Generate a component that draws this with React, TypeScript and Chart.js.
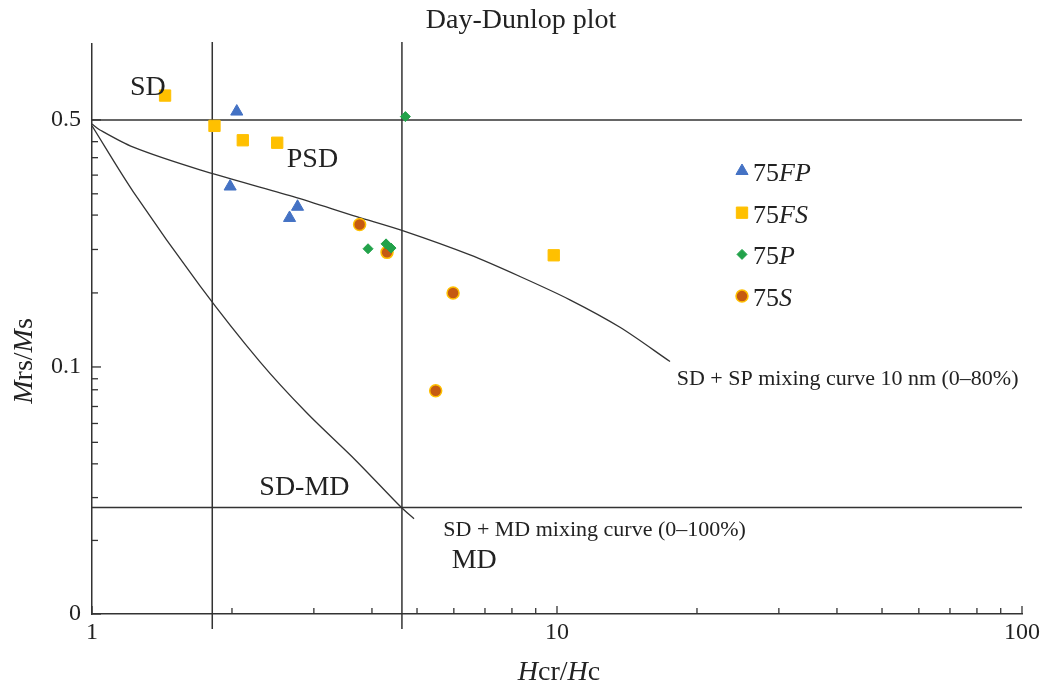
import React, { useEffect, useRef } from 'react';
import { Chart, registerables } from 'chart.js';

Chart.register(...registerables);

const FONT = '"Liberation Serif", "Times New Roman", serif';
const INK = '#222222';
const LINE = '#333333';

// ---- axis ticks ----
const xTickValues = [1, 2, 3, 4, 5, 6, 7, 8, 9, 10, 20, 30, 40, 50, 60, 70, 80, 90, 100];
const xMajorTicks = [1, 10, 100];
const xMajorLabels = ['1', '10', '100'];
const yMajorTicks = [0.02, 0.1, 0.5];
const yMajorLabels = ['0', '0.1', '0.5'];
const yMinorTicks = [0.0323, 0.0427, 0.0532, 0.0612, 0.0692, 0.0773, 0.0862, 0.0926, 0.162, 0.215, 0.269, 0.309, 0.349, 0.391, 0.434];

const chartTitle = 'Day-Dunlop plot';

// ---- sample series (Hcr/Hc, Mrs/Ms) ----
const fpX = [2.048, 1.982, 2.767, 2.66];
const fpY = [0.528, 0.324, 0.284, 0.264];
const fsX = [1.436, 1.834, 2.11, 2.502, 9.84];
const fsY = [0.586, 0.481, 0.438, 0.431, 0.207];
const pX = [4.72, 3.923, 4.289, 4.396];
const pY = [0.511, 0.216, 0.223, 0.217];
const sX = [3.763, 4.31, 5.977, 5.484];
const sY = [0.253, 0.211, 0.162, 0.0856];

// ---- mixing curves ----
const spCurveX = [1, 1.04, 1.227, 1.707, 2.71, 3.709, 4.672, 6.501, 8.324, 10.66, 13.66, 17.5];
const spCurveY = [0.487, 0.4684, 0.4186, 0.3611, 0.3034, 0.2663, 0.2427, 0.2075, 0.1803, 0.1549, 0.1295, 0.1036];
const mdCurveX = [1, 1.227, 1.707, 2.298, 2.895, 3.679, 4.634, 4.926];
const mdCurveY = [0.481, 0.3129, 0.1697, 0.1034, 0.0742, 0.05466, 0.03995, 0.0372];

// ---- domain boundaries ----
const boundaryHcr = [1.814, 4.64];
const boundaryMrs = [0.5, 0.04];

const seriesNames = ['FP', 'FS', 'P', 'S'];
const seriesPrefix = '75';

const annotations = [
  { text: 'SD', x: 1.207, y: 0.588, size: 28 },
  { text: 'PSD', x: 2.623, y: 0.368, size: 28 },
  { text: 'SD-MD', x: 2.29, y: 0.0435, size: 28 },
  { text: 'MD', x: 5.935, y: 0.02704, size: 28 },
  { text: 'SD + MD mixing curve (0\u2013100%)', x: 5.694, y: 0.0333, size: 22 },
  { text: 'SD + SP mixing curve 10 nm (0\u201380%)', x: 18.09, y: 0.089, size: 22 },
];

const markerStyles = [
  { shape: 'triangle', r: 7, fill: '#4472C4', stroke: '#4472C4', bw: 1 },
  { shape: 'rect', r: 8, fill: '#FFC000', stroke: '#FFC000', bw: 1 },
  { shape: 'rectRot', r: 5, fill: '#22A24A', stroke: '#22A24A', bw: 1 },
  { shape: 'circle', r: 6, fill: '#C55A11', stroke: '#FFC000', bw: 1.5 },
];

const toPts = (xs: number[], ys: number[]) => xs.map((x, i) => ({ x, y: ys[i] }));

function drawMarker(ctx: CanvasRenderingContext2D, m: any, x: number, y: number) {
  ctx.save();
  ctx.fillStyle = m.fill;
  ctx.strokeStyle = m.stroke;
  ctx.lineWidth = m.bw;
  ctx.beginPath();
  const r = m.r;
  if (m.shape === 'triangle') {
    ctx.moveTo(x, y - r);
    ctx.lineTo(x + Math.sin((2 * Math.PI) / 3) * r, y - Math.cos((2 * Math.PI) / 3) * r);
    ctx.lineTo(x + Math.sin((4 * Math.PI) / 3) * r, y - Math.cos((4 * Math.PI) / 3) * r);
    ctx.closePath();
  } else if (m.shape === 'rect') {
    const s = Math.SQRT1_2 * r;
    ctx.rect(x - s, y - s, 2 * s, 2 * s);
  } else if (m.shape === 'rectRot') {
    ctx.moveTo(x - r, y);
    ctx.lineTo(x, y - r);
    ctx.lineTo(x + r, y);
    ctx.lineTo(x, y + r);
    ctx.closePath();
  } else {
    ctx.arc(x, y, r, 0, Math.PI * 2);
  }
  ctx.fill();
  ctx.stroke();
  ctx.restore();
}

const refLinesPlugin = {
  id: 'refLines',
  beforeDatasetsDraw(chart: any) {
    const { ctx, chartArea, scales } = chart;
    ctx.save();
    ctx.strokeStyle = LINE;
    ctx.lineWidth = 1.5;
    boundaryMrs.forEach((v) => {
      const py = scales.y.getPixelForValue(v);
      ctx.beginPath();
      ctx.moveTo(chartArea.left, py);
      ctx.lineTo(chartArea.right, py);
      ctx.stroke();
    });
    boundaryHcr.forEach((v) => {
      const px = scales.x.getPixelForValue(v);
      ctx.beginPath();
      ctx.moveTo(px, chartArea.top - 2);
      ctx.lineTo(px, chartArea.bottom + 15);
      ctx.stroke();
    });
    ctx.restore();
  },
};

const decorPlugin = {
  id: 'decor',
  afterDraw(chart: any) {
    const { ctx, chartArea, scales } = chart;
    ctx.save();
    // inward ticks
    ctx.strokeStyle = LINE;
    ctx.lineWidth = 1.3;
    scales.x.ticks.forEach((t: any) => {
      const px = scales.x.getPixelForValue(t.value);
      const len = xMajorTicks.includes(t.value) ? 8 : 6;
      ctx.beginPath();
      ctx.moveTo(px, chartArea.bottom);
      ctx.lineTo(px, chartArea.bottom - len);
      ctx.stroke();
    });
    scales.y.ticks.forEach((t: any) => {
      const py = scales.y.getPixelForValue(t.value);
      const len = yMajorTicks.includes(t.value) ? 9 : 6;
      ctx.beginPath();
      ctx.moveTo(chartArea.left, py);
      ctx.lineTo(chartArea.left + len, py);
      ctx.stroke();
    });

    // title
    ctx.fillStyle = INK;
    ctx.textAlign = 'center';
    ctx.textBaseline = 'alphabetic';
    ctx.font = `28px ${FONT}`;
    ctx.fillText(chartTitle, chart.width / 2 - 2, chartArea.top - 16.5);

    // annotations
    ctx.textAlign = 'left';
    annotations.forEach((a) => {
      ctx.font = `${a.size}px ${FONT}`;
      ctx.fillText(a.text, scales.x.getPixelForValue(a.x), scales.y.getPixelForValue(a.y));
    });

    // legend
    const lx = chartArea.left + 650;
    const ly0 = chartArea.top + 127;
    seriesNames.forEach((name, i) => {
      const y = ly0 + i * 41.7;
      drawMarker(ctx, markerStyles[i], lx, y);
      ctx.fillStyle = INK;
      ctx.font = `26px ${FONT}`;
      const tx = lx + 11;
      ctx.fillText(seriesPrefix, tx, y + 10);
      const w = ctx.measureText(seriesPrefix).width;
      ctx.font = `italic 26px ${FONT}`;
      ctx.fillText(name, tx + w, y + 10);
    });

    // axis titles with mixed italic parts
    const drawParts = (parts: [string, boolean][], cx: number, baseY: number) => {
      let total = 0;
      parts.forEach(([s, it]) => {
        ctx.font = `${it ? 'italic ' : ''}28px ${FONT}`;
        total += ctx.measureText(s).width;
      });
      let x = cx - total / 2;
      parts.forEach(([s, it]) => {
        ctx.font = `${it ? 'italic ' : ''}28px ${FONT}`;
        ctx.fillText(s, x, baseY);
        x += ctx.measureText(s).width;
      });
    };
    drawParts(
      [['H', true], ['cr/', false], ['H', true], ['c', false]],
      (chartArea.left + chartArea.right) / 2 + 2,
      chartArea.bottom + 66
    );
    ctx.save();
    ctx.translate(32, chartArea.bottom - 253);
    ctx.rotate(-Math.PI / 2);
    drawParts([['M', true], ['rs/', false], ['M', true], ['s', false]], 0, 0);
    ctx.restore();

    ctx.restore();
  },
};

export default function App() {
  const ref = useRef<HTMLCanvasElement | null>(null);
  useEffect(() => {
    if (!ref.current) return;
    const chart = new Chart(ref.current, {
      type: 'scatter',
      data: {
        datasets: [
          ...seriesNames.map((name, i) => {
            const m = markerStyles[i];
            const xs = [fpX, fsX, pX, sX][i];
            const ys = [fpY, fsY, pY, sY][i];
            return {
              label: seriesPrefix + name,
              data: toPts(xs, ys),
              pointStyle: m.shape,
              pointRadius: m.r,
              pointBackgroundColor: m.fill,
              pointBorderColor: m.stroke,
              pointBorderWidth: m.bw,
              backgroundColor: m.fill,
              borderColor: m.stroke,
              showLine: false,
              order: 0,
            } as any;
          }),
          {
            label: 'SD + SP mixing curve',
            data: toPts(spCurveX, spCurveY),
            showLine: true,
            pointRadius: 0,
            borderColor: LINE,
            borderWidth: 1.3,
            tension: 0.3,
            fill: false,
            order: 1,
          } as any,
          {
            label: 'SD + MD mixing curve',
            data: toPts(mdCurveX, mdCurveY),
            showLine: true,
            pointRadius: 0,
            borderColor: LINE,
            borderWidth: 1.3,
            tension: 0.3,
            fill: false,
            order: 1,
          } as any,
        ],
      },
      options: {
        responsive: false,
        animation: false,
        events: [],
        layout: { padding: { left: 0, right: 24, top: 44, bottom: 0 } },
        plugins: {
          legend: { display: false },
          tooltip: { enabled: false },
          title: { display: false },
        },
        scales: {
          x: {
            type: 'logarithmic',
            position: 'bottom',
            min: 1,
            max: 100,
            afterBuildTicks: (s: any) => {
              s.ticks = xTickValues.map((v) => ({ value: v }));
            },
            afterFit: (s: any) => {
              s.height = 72;
            },
            ticks: {
              autoSkip: false,
              maxRotation: 0,
              padding: 4,
              color: INK,
              font: { family: FONT, size: 24 },
              callback: (v: any) => {
                const i = xMajorTicks.indexOf(Number(v));
                return i >= 0 ? xMajorLabels[i] : '';
              },
            },
            grid: { display: true, drawOnChartArea: false, drawTicks: false },
            border: { display: true, color: LINE, width: 1.5 },
          },
          y: {
            type: 'logarithmic',
            position: 'left',
            min: 0.02,
            max: 0.82,
            afterBuildTicks: (s: any) => {
              s.ticks = [...yMajorTicks, ...yMinorTicks]
                .sort((a, b) => a - b)
                .map((v) => ({ value: v }));
            },
            afterFit: (s: any) => {
              s.width = 92;
            },
            ticks: {
              autoSkip: false,
              padding: 11,
              color: INK,
              font: { family: FONT, size: 24 },
              callback: (v: any) => {
                const i = yMajorTicks.indexOf(Number(v));
                return i >= 0 ? yMajorLabels[i] : '';
              },
            },
            grid: { display: true, drawOnChartArea: false, drawTicks: false },
            border: { display: true, color: LINE, width: 1.5 },
          },
        },
      },
      plugins: [refLinesPlugin, decorPlugin],
    } as any);
    return () => chart.destroy();
  }, []);

  return (
    <div style={{ position: 'absolute', left: 0, top: 0, width: 1046, height: 686, background: '#fff' }}>
      <canvas ref={ref} width={1046} height={686} style={{ display: 'block' }} />
    </div>
  );
}
